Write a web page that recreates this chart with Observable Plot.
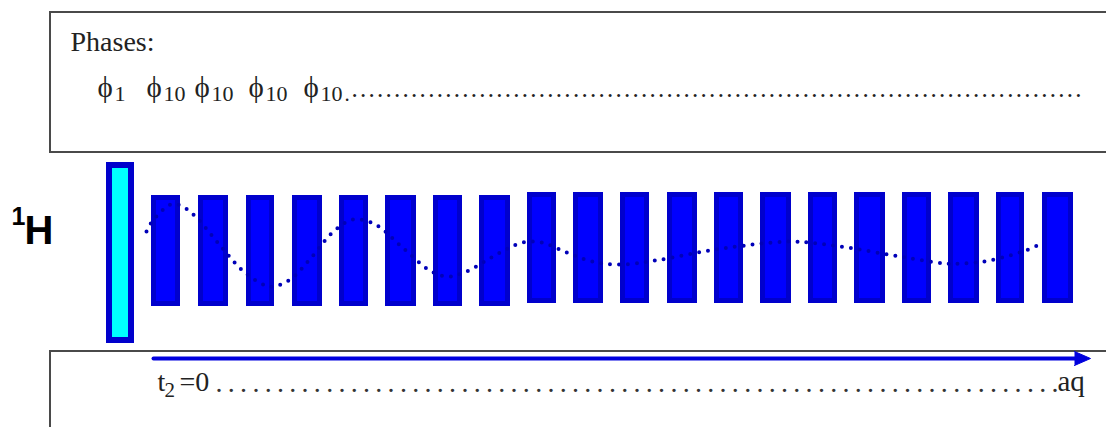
<!DOCTYPE html>
<html>
<head>
<meta charset="utf-8">
<script src="https://cdn.jsdelivr.net/npm/d3@7"></script>
<script src="https://cdn.jsdelivr.net/npm/@observablehq/plot@0.6"></script>
<style>
  html, body { margin: 0; padding: 0; background: #fff; overflow: hidden; }
</style>
</head>
<body>
<div id="chart"></div>
<script>
// ---- data (diagram units) ----
const pulseStart  = [151, 198, 246, 292, 339, 385, 433, 479, 527, 573, 620, 667, 714, 760, 808, 854, 902, 948, 996, 1042];
const pulseEnd    = [180, 228, 274, 322, 368, 416, 462, 510, 556, 603, 649, 697, 743, 791, 837, 885, 931, 979, 1024, 1073];
const pulseTop    = [195, 195, 195, 195, 195, 195, 195, 195, 192, 192, 192, 192, 192, 192, 192, 192, 192, 192, 192, 192];
const pulseBottom = [306, 306, 306, 306, 306, 306, 306, 306, 303, 303, 303, 303, 303, 303, 303, 303, 303, 303, 303, 303];

const prePulse = {start: 106, end: 134, top: 162, bottom: 343};

const waveX = [146, 151, 170, 180, 194, 218, 243, 265, 274, 291, 310, 333, 353, 375, 403, 431, 448, 466, 498, 522, 541, 566, 592, 619, 655, 709, 753, 790, 817, 853, 899, 944, 962, 989, 1025, 1041];
const waveY = [231, 222, 204, 205, 215, 243, 271, 285, 286, 278, 258, 231, 219, 224, 248, 271, 276, 271, 253, 242, 242, 252, 261, 264, 260, 250, 244, 241, 243, 248, 256, 263, 263, 260, 250, 243];

const phaseSymbol = "ϕ";
const phaseIndex  = ["1", "10", "10", "10", "10"];
const phaseX      = [97, 146, 194, 248, 303];
const phaseSubX   = [114, 163, 211, 265, 320];

const acqStart = 153, acqEnd = 1090, acqY = 358;

// ---- build tables ----
const pulses = pulseStart.map((s, i) => ({x1: s, x2: pulseEnd[i], y1: pulseTop[i], y2: pulseBottom[i]}));
const wave = waveX.map((x, i) => ({x, y: waveY[i]}));
const phases = phaseIndex.map((s, i) => ({x: phaseX[i], xs: phaseSubX[i], sub: s}));
const headLen = 16, headHalf = 7;
const arrowShaft = [{x: acqStart, y: acqY}, {x: acqEnd - headLen + 2, y: acqY}];
const arrowHead = [{x: acqEnd - headLen, y: acqY - headHalf}, {x: acqEnd, y: acqY}, {x: acqEnd - headLen, y: acqY + headHalf}];
const frames = [{x1: 50, x2: 1112, y1: 12, y2: 152}, {x1: 50, x2: 1112, y1: 351, y2: 440}];

const serif = "Liberation Serif, Times New Roman, serif";
const sans = "Liberation Sans, Arial, sans-serif";

const chart = Plot.plot({
  width: 1106,
  height: 427,
  margin: 0,
  x: {domain: [0, 1106], range: [0, 1106], axis: null},
  y: {domain: [0, 427], range: [0, 427], axis: null},
  marks: [
    Plot.rect(frames, {x1: "x1", x2: "x2", y1: "y1", y2: "y2", fill: "none", stroke: "#4a4a4a", strokeWidth: 2}),
    Plot.text(["Phases:"], {x: 70, y: 50, text: d => d, textAnchor: "start", lineAnchor: "bottom", fontFamily: serif, fontSize: 28, fill: "#222"}),
    Plot.text(phases, {x: "x", y: 96, text: () => phaseSymbol, textAnchor: "start", lineAnchor: "bottom", fontFamily: serif, fontSize: 29, fill: "#222"}),
    Plot.text(phases, {x: "xs", y: 100, text: "sub", textAnchor: "start", lineAnchor: "bottom", fontFamily: serif, fontSize: 22, fill: "#222"}),
    Plot.text(["."], {x: 344, y: 100, text: d => d, textAnchor: "start", lineAnchor: "bottom", fontFamily: serif, fontSize: 21, fill: "#222"}),
    Plot.text(["."], {x: 351, y: 96, text: () => ".".repeat(86), textAnchor: "start", lineAnchor: "bottom", fontFamily: serif, fontSize: 25, fill: "#222"}),
    Plot.text(["1"], {x: 11, y: 224, text: d => d, textAnchor: "start", lineAnchor: "bottom", fontFamily: sans, fontWeight: "bold", fontSize: 25, fill: "#000"}),
    Plot.text(["H"], {x: 24, y: 243, text: d => d, textAnchor: "start", lineAnchor: "bottom", fontFamily: sans, fontWeight: "bold", fontSize: 40, fill: "#000"}),
    Plot.rect([prePulse], {x1: "start", x2: "end", y1: "top", y2: "bottom", fill: "#00ffff", stroke: "#0000cc", strokeWidth: 6, inset: 3}),
    Plot.rect(pulses, {x1: "x1", x2: "x2", y1: "y1", y2: "y2", fill: "#0000ff", stroke: "#0000cc", strokeWidth: 5, inset: 2.5}),
    Plot.line(wave, {x: "x", y: "y", curve: "catmull-rom", stroke: "#0000b8", strokeWidth: 4, strokeDasharray: "0 9", strokeLinecap: "round"}),
    Plot.line(arrowShaft, {x: "x", y: "y", stroke: "#0000dd", strokeWidth: 4}),
    Plot.line(arrowHead, {x: "x", y: "y", fill: "#0000dd", stroke: "#0000dd", strokeWidth: 1}),
    Plot.text(["t"], {x: 157, y: 390, text: d => d, textAnchor: "start", lineAnchor: "bottom", fontFamily: serif, fontSize: 28, fill: "#222"}),
    Plot.text(["2"], {x: 164, y: 396, text: d => d, textAnchor: "start", lineAnchor: "bottom", fontFamily: serif, fontSize: 21, fill: "#222"}),
    Plot.text(["=0"], {x: 179, y: 390, text: d => d, textAnchor: "start", lineAnchor: "bottom", fontFamily: serif, fontSize: 28, fill: "#222"}),
    Plot.text(["."], {x: 215, y: 391, text: () => ".".repeat(69), textAnchor: "start", lineAnchor: "bottom", fontFamily: serif, fontSize: 28, fill: "#333"}),
    Plot.text(["aq"], {x: 1057, y: 390, text: d => d, textAnchor: "start", lineAnchor: "bottom", fontFamily: serif, fontSize: 29, fill: "#222"})
  ]
});

// stretch the dotted leaders to their full length
d3.select(chart).selectAll("text").each(function () {
  const t = this.textContent;
  if (/^\.{10,}$/.test(t)) {
    const len = t.length === 86 ? 1081 - 351 : 1058 - 215;
    this.setAttribute("textLength", len);
    this.setAttribute("lengthAdjust", "spacing");
  }
});

document.getElementById("chart").append(chart);
</script>
</body>
</html>
